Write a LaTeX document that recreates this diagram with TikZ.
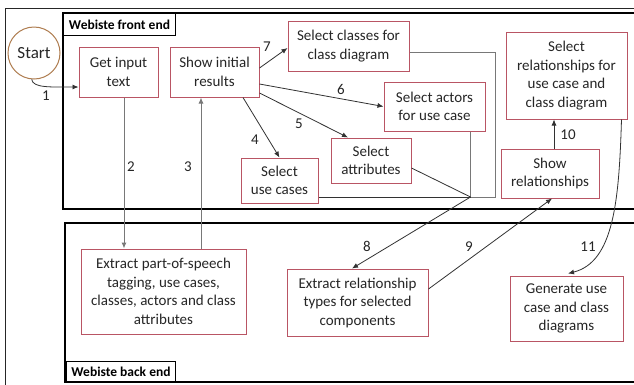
\documentclass[tikz,border=0pt]{standalone}
\usepackage{fontspec}
\setmainfont{Carlito}
\usetikzlibrary{arrows.meta}
\definecolor{boxred}{RGB}{185,85,100}
\definecolor{startbrown}{RGB}{175,125,80}
\definecolor{lgrey}{RGB}{120,120,120}
\definecolor{dline}{RGB}{50,50,50}
\tikzset{
  procbox/.style={draw=boxred, line width=1pt, fill=white, align=center, inner sep=0pt,
    text=black!85, font=\fontsize{15}{18.5}\selectfont},
  lbl/.style={font=\fontsize{15}{18}\selectfont, inner sep=0pt, text=black!85},
  framelbl/.style={draw=black, line width=1pt, fill=white, inner sep=0pt, anchor=north west,
    font=\fontsize{13.5}{16}\selectfont\bfseries},
  frame/.style={draw=black, line width=1.8pt},
  conn/.style={draw=dline, line width=0.8pt, -{Latex[length=6pt,width=5pt]}},
  gconn/.style={draw=lgrey, line width=1pt, -{Latex[length=6pt,width=5pt]}},
  gline/.style={draw=lgrey, line width=1pt},
  dln/.style={draw=dline, line width=0.8pt},
}
\begin{document}
\begin{tikzpicture}[x=1pt,y=-1pt]
\useasboundingbox (0,0) rectangle (634,384);
\clip (0,0) rectangle (634,384);
\fill[white] (0,0) rectangle (634,384);
% frames
\draw[draw=black!85, line width=1pt] (5,420) -- (5,8) -- (660,8);
\draw[frame] (63,13) rectangle (660,209);
\draw[frame] (65,223) rectangle (660,382);
\node[framelbl, minimum width=112pt, minimum height=22pt] (flbl) at (63,13) {Webiste front end};
\node[framelbl, minimum width=109pt, minimum height=20pt, anchor=south west] (blbl) at (66,382) {Webiste back end};
% nodes
\node[circle, draw=startbrown, line width=1pt, minimum size=52pt, inner sep=0pt, text=black!85, font=\fontsize{17}{20}\selectfont] (start) at (34,53) {Start};
\node[procbox, minimum width=79pt, minimum height=50pt] (getinput) at (118.5,72) {Get input\\text};
\node[procbox, minimum width=89pt, minimum height=50pt] (showinit) at (214.5,72) {Show initial\\results};
\node[procbox, minimum width=121pt, minimum height=50pt] (selclass) at (348.5,46) {Select classes for\\class diagram};
\node[procbox, minimum width=101pt, minimum height=49pt] (selactors) at (434.5,106.5) {Select actors\\for use case};
\node[procbox, minimum width=80pt, minimum height=45pt] (selattr) at (371,160.5) {Select\\attributes};
\node[procbox, minimum width=77pt, minimum height=45pt] (seluse) at (279.5,180.5) {Select\\use cases};
\node[procbox, minimum width=121pt, minimum height=87pt] (selrel) at (566.5,75.5) {Select\\relationships for\\use case and\\class diagram};
\node[procbox, minimum width=98pt, minimum height=49pt] (showrel) at (550,173.5) {Show\\relationships};
\node[procbox, minimum width=165pt, minimum height=85pt] (extpos) at (163.5,291.5) {Extract part-of-speech\\tagging, use cases,\\classes, actors and class\\attributes};
\node[procbox, minimum width=141pt, minimum height=67pt] (extrel) at (357.5,302.5) {Extract relationship\\types for selected\\components};
\node[procbox, minimum width=113pt, minimum height=65pt] (gen) at (566.5,308.5) {Generate use\\case and class\\diagrams};
\coordinate (J) at (470.5,197);
\coordinate (K) at (495,197);
% connectors
\draw[conn] (start.-95) .. controls (33,88) and (50,87) .. ([yshift=-15pt]getinput.west);
\draw[gconn] ([xshift=5.5pt]getinput.south) -- ([xshift=5.5pt]getinput.south |- extpos.north);
\draw[gconn] ([xshift=-13.5pt]showinit.south |- extpos.north) -- ([xshift=-13.5pt]showinit.south);
\draw[conn] ([xshift=28.5pt]showinit.south) -- (seluse.north);
\draw[conn] ([yshift=-21pt]showinit.east) -- ([xshift=-23pt]selattr.north);
\draw[conn] ([yshift=-12pt]showinit.east) -- (selactors.west);
\draw[conn] ([yshift=4pt]showinit.east) -- ([yshift=-2pt]selclass.west);
\draw[gline] ([yshift=-6pt]selclass.east) -| (K) -- (J);
\draw[gline] (selactors.south -| J) -- (J);
\draw[dln] ([yshift=-7.5pt]selattr.east) -- (J);
\draw[dln] (seluse.east |- J) -- (J);
\draw[conn] (J) -- ([xshift=-5.5pt]extrel.north);
\draw[conn] ([yshift=13.5pt]extrel.east) -- ([xshift=2pt]showrel.south);
\draw[conn] ([xshift=4pt]showrel.north) -- ([xshift=4pt]showrel.north |- selrel.south);
\draw[conn] ([xshift=-6pt]selrel.south east) .. controls (619,200) and (614,262) .. ([xshift=1.5pt,yshift=2pt]gen.north);
% labels
\node[lbl] (l1) at (46,96) {1};
\node[lbl] (l2) at (131,167) {2};
\node[lbl] (l3) at (188,167) {3};
\node[lbl] (l4) at (255,140) {4};
\node[lbl] (l5) at (299,124) {5};
\node[lbl] (l6) at (341,89) {6};
\node[lbl] (l7) at (267,47) {7};
\node[lbl] (l8) at (367,246) {8};
\node[lbl] (l9) at (469,247) {9};
\node[lbl] (l10) at (568,135) {10};
\node[lbl] (l11) at (588,247) {11};
\end{tikzpicture}
\end{document}
